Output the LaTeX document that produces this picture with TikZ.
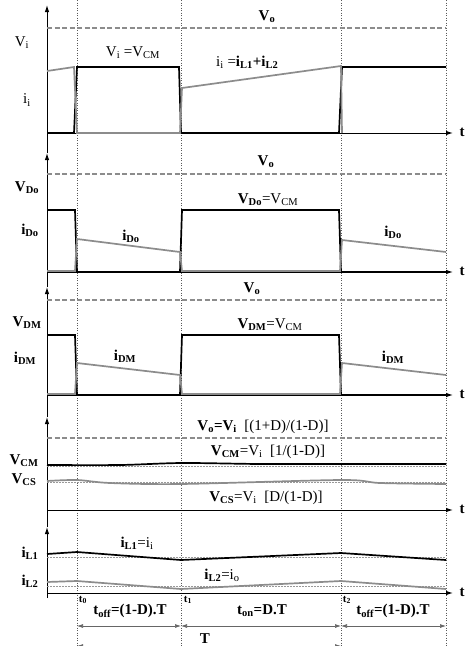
\documentclass[tikz,border=0pt]{standalone}
\usepackage{fontspec}
\setmainfont{Liberation Serif}
\usetikzlibrary{arrows.meta}
\newcommand{\sbs}[1]{\textsubscript{#1}}
\begin{document}
\begin{tikzpicture}[x=1pt,y=-1pt,
 sig/.style={line width=1.7pt, black, line join=miter},
 cur/.style={line width=1.7pt, black!45},
 voline/.style={line width=1.5pt, black!45, dash pattern=on 5pt off 2.5pt},
 vdot/.style={line width=0.6pt, black!65, dash pattern=on 1pt off 1.5pt},
 refdot/.style={line width=0.5pt, black!40, dash pattern=on 1.5pt off 1.5pt},
 yax/.style={line width=1pt, -{Latex[length=7pt,width=4.5pt]}},
 tax/.style={line width=1pt, -{Latex[length=7pt,width=4.5pt]}},
 lbl/.style={font=\fontsize{15}{17}\selectfont\bfseries, inner sep=0pt},
 lbln/.style={font=\fontsize{15}{17}\selectfont, inner sep=0pt},
 tk/.style={font=\fontsize{11}{12}\selectfont\bfseries, inner sep=0pt},
 dimarr/.style={line width=0.7pt, black!60, {Latex[length=6pt,width=4pt]}-{Latex[length=6pt,width=4pt]}},
]
\useasboundingbox (0,0) rectangle (471,646);
\fill[white] (0,0) rectangle (471,646);
% dotted time markers
\foreach \xx in {77,181,341,446} \draw[vdot] (\xx,0) -- (\xx,646);
% y axes
\draw[yax] (47,153) -- (47,5);
\draw[yax] (47,287) -- (47,153);
\draw[yax] (47,417) -- (47,287);
\draw[yax] (47,527) -- (47,417);
\draw[yax] (47,598) -- (47,527);
% time axes
\foreach \yy in {133,272,395,510,593} {
  \draw[tax] (47,\yy) -- (453,\yy);
  \node[lbl] at (462,\yy-1) {t};
}
% ---------- panel 1 ----------
\draw[voline] (47,28) -- (446,28);
\node[lbl] at (267,17) {V\sbs{o}};
\node[lbln] at (22,43) {V\sbs{i}};
\node[lbln] at (27,100) {i\sbs{i}};
\draw[sig] (47,133) -- (74,133) -- (77,67) -- (179,67) -- (181,133) -- (339,133) -- (342,67) -- (446,67);
\draw[cur] (47,71) -- (74,67) -- (77,133) -- (180,133) -- (182,88) -- (341,66) -- (342,133);
\node[lbln] at (133,53) {V\sbs{i} =V\sbs{CM}};
\node[lbln,anchor=west] at (216,62) {i\sbs{i} =\textbf{i\sbs{L1}+i\sbs{L2}}};
% ---------- panel 2 ----------
\draw[voline] (47,174) -- (446,174);
\node[lbl] at (266,162) {V\sbs{o}};
\node[lbl] at (27,188) {V\sbs{Do}};
\node[lbl] at (30,230) {i\sbs{Do}};
\draw[sig] (47,210) -- (75,210) -- (77,272) -- (180,272) -- (182,210) -- (339,210) -- (341,272) -- (446,272);
\draw[cur] (47,271) -- (75,271) -- (77,239) -- (180,252) -- (182,271) -- (340,271) -- (342,240) -- (446,252);
\node[lbl] at (131,236) {i\sbs{Do}};
\node[lbl] at (268,200) {V\sbs{Do}\mdseries=V\sbs{CM}};
\node[lbl] at (393,232) {i\sbs{Do}};
% ---------- panel 3 ----------
\draw[voline] (47,300) -- (446,300);
\node[lbl] at (252,289) {V\sbs{o}};
\node[lbl] at (27,323) {V\sbs{DM}};
\node[lbl] at (25,358) {i\sbs{DM}};
\draw[sig] (47,335) -- (75,335) -- (77,395) -- (180,395) -- (182,335) -- (339,335) -- (341,395) -- (446,395);
\draw[cur] (47,394) -- (75,394) -- (77,363) -- (180,375) -- (182,394) -- (340,394) -- (342,363) -- (446,375);
\node[lbl] at (125,356) {i\sbs{DM}};
\node[lbl] at (270,325) {V\sbs{DM}\mdseries=V\sbs{CM}};
\node[lbl] at (393,357) {i\sbs{DM}};
% ---------- panel 4 ----------
\draw[voline] (47,438) -- (446,438);
\node[lbl] at (263,427) {V\sbs{o}=V\sbs{i}\mdseries\enspace[(1+D)/(1-D)]};
\draw[refdot] (47,466) -- (446,466);
\draw[refdot] (47,482) -- (446,482);
\draw[sig] plot[smooth,tension=0.5] coordinates {(47,465) (120,465) (182,463) (260,464) (341,464) (446,464)};
\draw[cur] plot[smooth,tension=0.5] coordinates {(47,481) (77,480) (110,483) (181,484) (341,480) (380,483) (446,484)};
\node[lbl] at (24,461) {V\sbs{CM}};
\node[lbl] at (24,480) {V\sbs{CS}};
\node[lbl] at (268,452) {V\sbs{CM}\mdseries=V\sbs{i}\enspace[1/(1-D)]};
\node[lbl] at (266,498) {V\sbs{CS}\mdseries=V\sbs{i}\enspace[D/(1-D)]};
% ---------- panel 5 ----------
\draw[refdot] (47,557) -- (446,557);
\draw[refdot] (47,586) -- (446,586);
\draw[sig] (47,554) -- (77,552) -- (181,560) -- (341,553) -- (446,560);
\draw[cur] (47,582) -- (77,581) -- (181,589) -- (341,581) -- (446,589);
\node[lbl] at (30,553) {i\sbs{L1}};
\node[lbl] at (30,581) {i\sbs{L2}};
\node[lbl] at (137,543) {i\sbs{L1}\mdseries=i\sbs{i}};
\node[lbl] at (222,575) {i\sbs{L2}\mdseries=i\sbs{o}};
\node[tk] at (83,600) {t\sbs{0}};
\node[tk] at (188,600) {t\sbs{1}};
\node[tk] at (347,600) {t\sbs{2}};
% dimensions
\coordinate (d0) at (77,626);
\coordinate (d1) at (181,626);
\coordinate (d2) at (341,626);
\coordinate (d3) at (446,626);
\draw[dimarr] (d0) -- (d1);
\draw[dimarr] (d1) -- (d2);
\draw[dimarr] (d2) -- (d3);
\node[lbl] at (130,611) {t\sbs{off}=(1-D).T};
\node[lbl] at (262,611) {t\sbs{on}=D.T};
\node[lbl] at (393,611) {t\sbs{off}=(1-D).T};
\node[lbl] at (205,639) {T};
\coordinate (e0) at (77,646);
\coordinate (e1) at (341,646);
\draw[dimarr] (e0) -- (e1);
\end{tikzpicture}
\end{document}
